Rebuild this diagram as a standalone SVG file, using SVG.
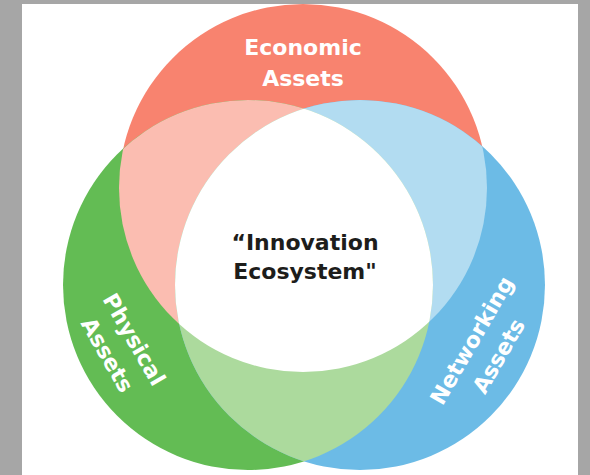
<svg xmlns="http://www.w3.org/2000/svg" width="590" height="475" viewBox="0 0 590 475">
<style>
.lbl{font-family:"DejaVu Sans","Liberation Sans",sans-serif;font-weight:bold;font-size:22px;text-anchor:middle;fill:#ffffff}
.ctr{font-family:"DejaVu Sans","Liberation Sans",sans-serif;font-weight:bold;font-size:22px;text-anchor:middle;fill:#1d1d1b}
</style>
<defs>
<clipPath id="cR"><circle cx="303" cy="188" r="184"/></clipPath>
<clipPath id="cG"><circle cx="248" cy="285" r="185"/></clipPath>
<clipPath id="cB"><circle cx="360" cy="285" r="185"/></clipPath>
</defs>
<rect x="0" y="0" width="590" height="475" fill="#a6a6a6"/>
<rect x="22" y="4" width="556" height="471" fill="#ffffff"/>
<g id="economic">
<circle cx="303" cy="188" r="184" fill="#f8836f"/>
</g>
<g id="physical">
<circle cx="248" cy="285" r="185" fill="#63bc54"/>
</g>
<g id="networking">
<circle cx="360" cy="285" r="185" fill="#6cbbe6"/>
</g>
<g id="overlaps">
<g clip-path="url(#cR)"><circle cx="248" cy="285" r="185" fill="#fbbdb1"/></g>
<g clip-path="url(#cR)"><circle cx="360" cy="285" r="185" fill="#b2dcf1"/></g>
<g clip-path="url(#cG)"><circle cx="360" cy="285" r="185" fill="#acda9d"/></g>
<g id="ecosystem" clip-path="url(#cR)"><g clip-path="url(#cG)"><circle cx="360" cy="285" r="185" fill="#ffffff"/></g></g>
</g>
<g id="labels">
<text class="lbl" x="303" y="55">Economic</text>
<text class="lbl" x="303" y="86">Assets</text>
<text class="ctr" x="305" y="250">“Innovation</text>
<text class="ctr" x="305" y="279">Ecosystem"</text>
<g transform="translate(121,347) rotate(60)">
<text class="lbl" x="0" y="-7.5">Physical</text>
<text class="lbl" x="0" y="23.5">Assets</text>
</g>
<g transform="translate(485,348) rotate(-60)">
<text class="lbl" x="0" y="-7.5">Networking</text>
<text class="lbl" x="0" y="23.5">Assets</text>
</g>
</g>
</svg>
